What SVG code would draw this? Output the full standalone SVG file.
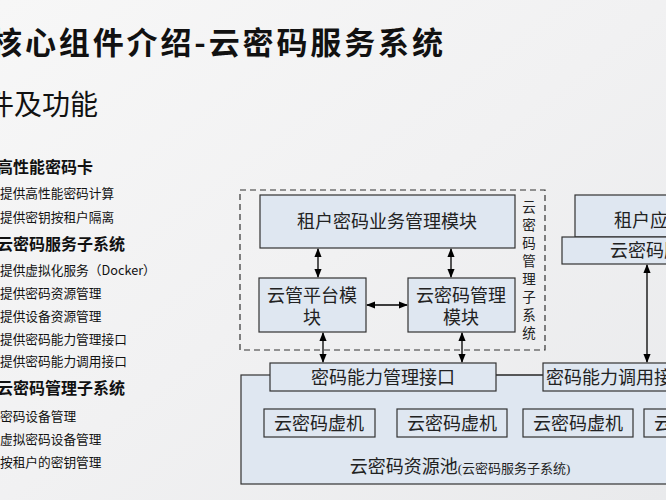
<svg xmlns="http://www.w3.org/2000/svg" width="666" height="500" viewBox="0 0 666 500">
<defs>
<linearGradient id="bg" x1="0" y1="0" x2="1" y2="1"><stop offset="0" stop-color="#f7f7f7"/><stop offset="0.5" stop-color="#f1f1f2"/><stop offset="1" stop-color="#e9eaec"/></linearGradient>
<marker id="ah" viewBox="0 0 10 10" refX="9" refY="5" markerWidth="7" markerHeight="7" orient="auto-start-reverse"><path d="M0,1 L10,5 L0,9 z" fill="#000"/></marker>
<style>
.t{font-family:"Noto Sans CJK SC","Liberation Sans",sans-serif;fill:#111}
.h{font-size:16px;font-weight:bold}
.i{font-size:12.7px}
.b{fill:#dfe7f1;stroke:#333;stroke-width:1.2}
.d{font-family:"Liberation Serif","Noto Sans CJK SC",serif;font-size:18px;fill:#222;text-anchor:middle}
.v{font-family:"Liberation Serif","Noto Sans CJK SC",serif;font-size:13.5px;fill:#222;text-anchor:middle}
.c line{stroke:#000;stroke-width:1.3;marker-start:url(#ah);marker-end:url(#ah)}
</style>
</defs>
<rect width="666" height="500" fill="url(#bg)"/>
<g id="title" class="t">
<text x="-9" y="54" font-size="31" font-weight="bold" textLength="452" lengthAdjust="spacing">核心组件介绍-云密码服务系统</text>
<text x="-14" y="115" font-size="28">件及功能</text>
</g>
<g id="list" class="t">
<text class="h" x="-3" y="173">高性能密码卡</text>
<text class="i" x="0" y="198">提供高性能密码计算</text>
<text class="i" x="0" y="222">提供密钥按租户隔离</text>
<text class="h" x="-3" y="250">云密码服务子系统</text>
<text class="i" x="0" y="275">提供虚拟化服务（Docker）</text>
<text class="i" x="0" y="298">提供密码资源管理</text>
<text class="i" x="0" y="321">提供设备资源管理</text>
<text class="i" x="0" y="344">提供密码能力管理接口</text>
<text class="i" x="0" y="366">提供密码能力调用接口</text>
<text class="h" x="-3" y="394">云密码管理子系统</text>
<text class="i" x="0" y="421">密码设备管理</text>
<text class="i" x="0" y="444">虚拟密码设备管理</text>
<text class="i" x="0" y="467">按租户的密钥管理</text>
</g>
<g id="mgmt-subsystem">
<rect x="240" y="190" width="305" height="160" fill="none" stroke="#333" stroke-width="1.2" stroke-dasharray="6,4"/>
<text class="v" x="529" y="212">云</text>
<text class="v" x="529" y="230">密</text>
<text class="v" x="529" y="248">码</text>
<text class="v" x="529" y="266">管</text>
<text class="v" x="529" y="284">理</text>
<text class="v" x="529" y="302">子</text>
<text class="v" x="529" y="320">系</text>
<text class="v" x="529" y="338">统</text>
</g>
<g id="pool">
<rect class="b" x="241" y="375" width="440" height="109"/>
<text class="d" x="460" y="473">云密码资源池<tspan font-size="13">(云密码服务子系统)</tspan></text>
</g>
<g id="tenant-biz"><rect class="b" x="260" y="195" width="255" height="53"/><text class="d" x="387" y="228">租户密码业务管理模块</text></g>
<g id="cloud-platform"><rect class="b" x="259" y="278" width="107" height="54"/><text class="d" x="312" y="302">云管平台模</text><text class="d" x="312" y="324">块</text></g>
<g id="crypto-mgmt"><rect class="b" x="408" y="278" width="107" height="54"/><text class="d" x="461" y="302">云密码管理</text><text class="d" x="461" y="324">模块</text></g>
<g id="mgmt-api"><rect class="b" x="270" y="363" width="226" height="28"/><text class="d" x="383" y="384">密码能力管理接口</text></g>
<g id="call-api"><rect class="b" x="543" y="363" width="150" height="28"/><text class="d" x="618" y="384">密码能力调用接口</text></g>
<g id="tenant-app"><rect class="b" x="575" y="195" width="100" height="42"/><text class="d" x="650" y="227">租户应用</text></g>
<g id="service-client"><rect class="b" x="562" y="237" width="120" height="27"/><text class="d" x="655" y="257">云密码服务</text></g>
<g id="vm1"><rect fill="none" stroke="#333" stroke-width="1.2" x="264" y="409" width="111" height="28"/><text class="d" x="319" y="430">云密码虚机</text></g>
<g id="vm2"><rect fill="none" stroke="#333" stroke-width="1.2" x="397" y="409" width="110" height="28"/><text class="d" x="452" y="430">云密码虚机</text></g>
<g id="vm3"><rect fill="none" stroke="#333" stroke-width="1.2" x="523" y="409" width="110" height="28"/><text class="d" x="578" y="430">云密码虚机</text></g>
<g id="vm4"><rect fill="none" stroke="#333" stroke-width="1.2" x="644" y="409" width="110" height="28"/><text class="d" x="699" y="430">云密码虚机</text></g>
<g id="connectors" class="c">
<line x1="318" y1="249" x2="318" y2="277"/>
<line x1="451" y1="249" x2="451" y2="277"/>
<line x1="367" y1="305" x2="407" y2="305"/>
<line x1="323" y1="333" x2="323" y2="362"/>
<line x1="462" y1="333" x2="462" y2="362"/>
<line x1="647" y1="265" x2="647" y2="362"/>
<path d="M496,375 H543" stroke="#333" stroke-width="1.2" fill="none"/>
</g>
</svg>
